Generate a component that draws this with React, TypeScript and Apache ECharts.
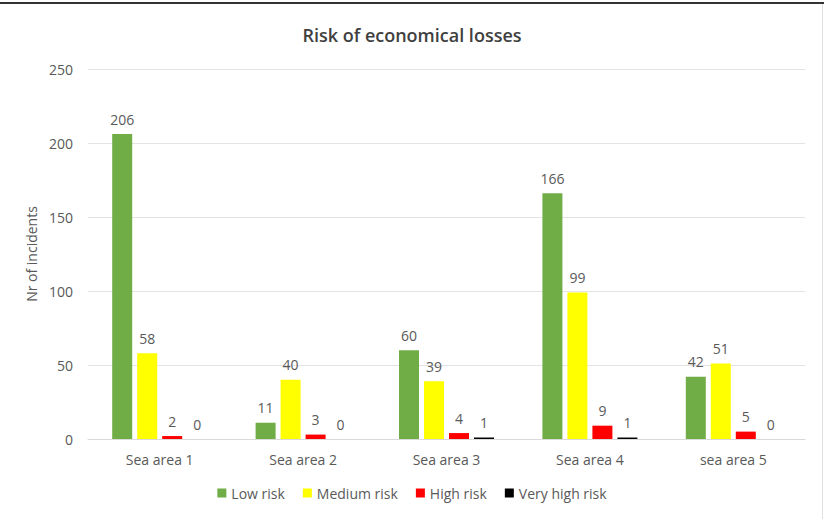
import React, { useEffect, useRef } from "react";
import * as echarts from "echarts";

const categories = ["Sea area 1", "Sea area 2", "Sea area 3", "Sea area 4", "sea area 5"];
const lowRisk = [206, 11, 60, 166, 42];
const mediumRisk = [58, 40, 39, 99, 51];
const highRisk = [2, 3, 4, 9, 5];
const veryHighRisk = [0, 0, 1, 1, 0];
const yTicks = { min: 0, max: 250, interval: 50 };

const FONT = "'Open Sans', 'Noto Sans', sans-serif";

export default function App() {
  const ref = useRef<HTMLDivElement>(null);
  useEffect(() => {
    if (!ref.current) return;
    const chart = echarts.init(ref.current, undefined, { renderer: "svg" });
    const label = {
      show: true,
      position: "top",
      distance: 8,
      color: "#595959",
      fontSize: 14,
      fontFamily: FONT,
    };
    const mk = (name: string, data: number[], color: string) => ({
      name,
      type: "bar",
      data,
      barWidth: 20,
      barGap: "25%",
      itemStyle: { color },
      label,
    });
    chart.setOption({
      animation: false,
      backgroundColor: "#ffffff",
      textStyle: { fontFamily: FONT },
      title: {
        text: "Risk of economical losses",
        left: "center",
        top: 21,
        textStyle: { fontSize: 18, fontWeight: 600, color: "#404040", fontFamily: FONT },
      },
      legend: {
        bottom: 14,
        left: "center",
        itemWidth: 9,
        itemHeight: 9,
        itemGap: 18,
        icon: "rect",
        textStyle: { color: "#595959", fontSize: 14, fontFamily: FONT },
        data: ["Low risk", "Medium risk", "High risk", "Very high risk"],
      },
      grid: { left: 88, right: 19, top: 69, bottom: 80 },
      xAxis: {
        type: "category",
        data: categories,
        axisLine: { lineStyle: { color: "#d9d9d9" } },
        axisTick: { show: false },
        axisLabel: { color: "#595959", fontSize: 14, margin: 13, fontFamily: FONT },
      },
      yAxis: {
        type: "value",
        min: yTicks.min,
        max: yTicks.max,
        interval: yTicks.interval,
        name: "Nr of incidents",
        nameLocation: "middle",
        nameGap: 45,
        nameTextStyle: { color: "#595959", fontSize: 14, fontFamily: FONT },
        axisLine: { show: false },
        axisTick: { show: false },
        axisLabel: { color: "#595959", fontSize: 14, margin: 15, fontFamily: FONT },
        splitLine: { lineStyle: { color: "#e3e3e3" } },
      },
      series: [
        mk("Low risk", lowRisk, "#70ad47"),
        mk("Medium risk", mediumRisk, "#ffff00"),
        mk("High risk", highRisk, "#ff0000"),
        mk("Very high risk", veryHighRisk, "#000000"),
      ],
      graphic: [
        { type: "rect", shape: { x: 0, y: 2, width: 824, height: 2 }, style: { fill: "#333333" } },
        { type: "rect", shape: { x: 822, y: 4, width: 1, height: 515 }, style: { fill: "#e0e0e0" } },
      ],
    });
    return () => chart.dispose();
  }, []);
  return (
    <div
      ref={ref}
      style={{ position: "fixed", left: 0, top: 0, width: 824, height: 519 }}
    />
  );
}
